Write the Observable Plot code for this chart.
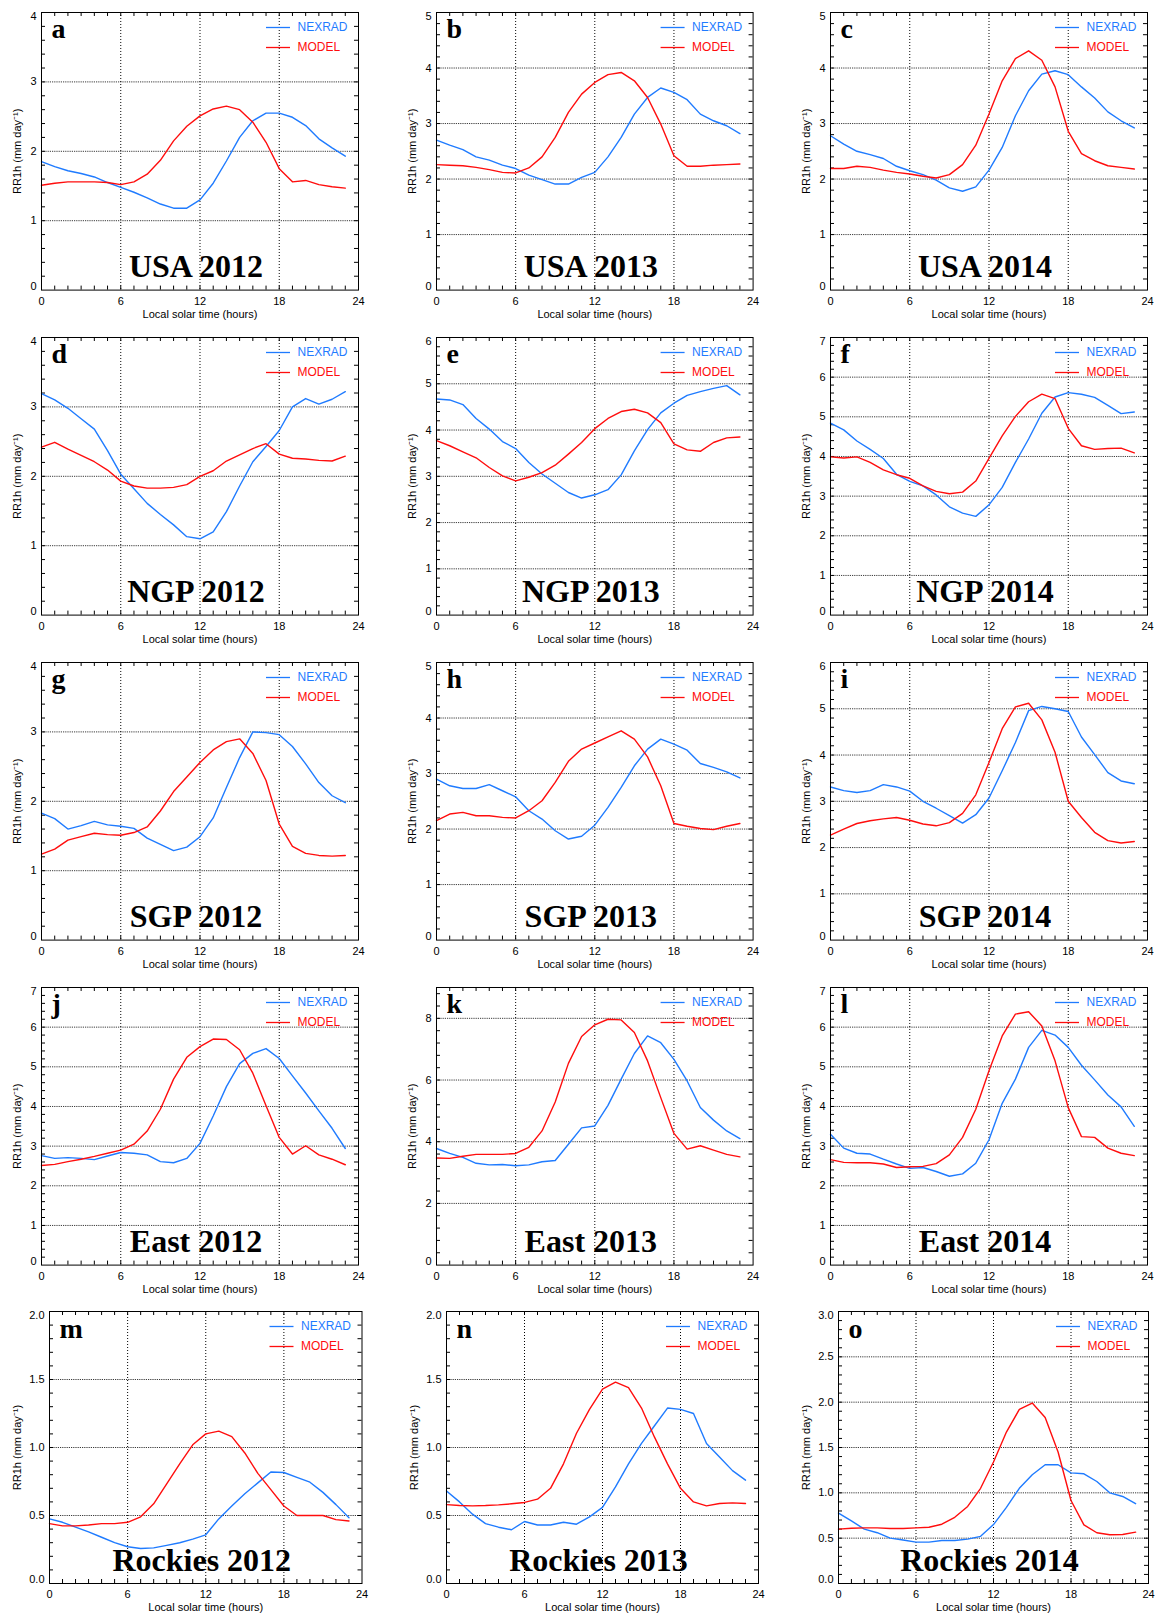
<!DOCTYPE html>
<html>
<head>
<meta charset="utf-8">
<script src="https://cdn.jsdelivr.net/npm/d3@7"></script>
<script src="https://cdn.jsdelivr.net/npm/@observablehq/plot@0.6"></script>
<style>
  html, body { margin: 0; padding: 0; background: #fff; }
  #root { position: relative; width: 1156px; height: 1615px; overflow: hidden; }
  #root svg { position: absolute; overflow: visible; }
</style>
</head>
<body>
<div id="root"></div>
<script>
// ---------------- DATA ----------------
const hours = [0,1,2,3,4,5,6,7,8,9,10,11,12,13,14,15,16,17,18,19,20,21,22,23];
const xTicks = [0, 6, 12, 18, 24];
const xGrid = [6, 12, 18];
const seriesNames = ["NEXRAD", "MODEL"];
const panelLetters = ["a","b","c","d","e","f","g","h","i","j","k","l","m","n","o"];
const panelTitles = ["USA 2012","USA 2013","USA 2014","NGP 2012","NGP 2013","NGP 2014",
  "SGP 2012","SGP 2013","SGP 2014","East 2012","East 2013","East 2014",
  "Rockies 2012","Rockies 2013","Rockies 2014"];
const yMaxes      = [4,5,5, 4,6,7, 4,5,6, 7,9,7, 2,2,3];
const yLabelSteps = [1,1,1, 1,1,1, 1,1,1, 1,2,1, 0.5,0.5,0.5];
const yMinorSteps = [0.2,0.2,0.2, 0.2,0.2,0.2, 0.2,0.2,0.2, 0.2,0.4,0.2, 0.1,0.1,0.1];
const yLabel = "RR1h (mm day\u207B\u00B9)";
const xLabel = "Local solar time (hours)";

const nexradA = [1.85,1.78,1.72,1.68,1.63,1.55,1.48,1.41,1.33,1.24,1.18,1.18,1.30,1.54,1.86,2.20,2.44,2.55,2.55,2.49,2.37,2.18,2.05,1.93];
const modelA  = [1.51,1.54,1.56,1.56,1.56,1.55,1.52,1.56,1.67,1.87,2.15,2.36,2.51,2.61,2.65,2.60,2.42,2.13,1.75,1.56,1.58,1.52,1.49,1.47];
const nexradB = [2.70,2.61,2.53,2.40,2.34,2.25,2.19,2.07,1.99,1.91,1.91,2.03,2.12,2.40,2.75,3.17,3.47,3.64,3.56,3.43,3.17,3.05,2.96,2.82];
const modelB  = [2.26,2.25,2.24,2.21,2.17,2.12,2.11,2.20,2.40,2.75,3.20,3.53,3.74,3.88,3.92,3.77,3.47,2.99,2.42,2.23,2.23,2.25,2.26,2.27];
const nexradC = [2.78,2.63,2.50,2.44,2.37,2.23,2.15,2.08,1.98,1.84,1.78,1.86,2.16,2.57,3.14,3.59,3.89,3.95,3.88,3.66,3.46,3.21,3.05,2.92];
const modelC  = [2.19,2.19,2.23,2.21,2.16,2.12,2.09,2.05,2.02,2.08,2.26,2.61,3.17,3.77,4.17,4.31,4.14,3.66,2.86,2.46,2.33,2.24,2.21,2.18];
const nexradD = [3.19,3.10,2.98,2.83,2.68,2.37,2.03,1.82,1.61,1.45,1.30,1.13,1.10,1.20,1.49,1.86,2.21,2.43,2.66,3.00,3.12,3.04,3.11,3.22];
const modelD  = [2.42,2.49,2.39,2.30,2.21,2.09,1.93,1.86,1.83,1.83,1.84,1.88,2.00,2.08,2.22,2.31,2.40,2.47,2.32,2.26,2.25,2.23,2.22,2.29];
const nexradE = [4.67,4.65,4.55,4.25,4.02,3.75,3.60,3.30,3.05,2.85,2.65,2.53,2.60,2.71,3.03,3.55,4.01,4.37,4.58,4.75,4.83,4.90,4.96,4.76];
const modelE  = [3.77,3.66,3.53,3.40,3.19,3.01,2.90,2.98,3.08,3.24,3.48,3.73,4.03,4.25,4.40,4.45,4.37,4.16,3.70,3.57,3.54,3.73,3.83,3.85];
const nexradF = [4.84,4.67,4.39,4.18,3.95,3.55,3.37,3.26,3.03,2.73,2.57,2.49,2.78,3.22,3.85,4.44,5.09,5.50,5.61,5.57,5.49,5.29,5.08,5.12];
const modelF  = [3.99,3.96,3.99,3.85,3.66,3.54,3.45,3.26,3.12,3.06,3.10,3.38,3.95,4.52,5.01,5.38,5.57,5.46,4.71,4.27,4.18,4.20,4.21,4.09];
const nexradG = [1.83,1.75,1.60,1.65,1.71,1.66,1.64,1.61,1.47,1.38,1.29,1.34,1.49,1.76,2.20,2.63,3.00,2.99,2.96,2.79,2.54,2.27,2.08,1.98];
const modelG  = [1.24,1.31,1.44,1.49,1.54,1.52,1.51,1.55,1.63,1.86,2.14,2.35,2.56,2.74,2.86,2.90,2.69,2.30,1.67,1.35,1.25,1.22,1.21,1.22];
const nexradH = [2.90,2.78,2.73,2.73,2.80,2.69,2.58,2.33,2.18,1.97,1.82,1.87,2.07,2.39,2.75,3.14,3.44,3.62,3.53,3.42,3.18,3.11,3.03,2.92];
const modelH  = [2.15,2.27,2.30,2.24,2.24,2.21,2.20,2.33,2.51,2.84,3.22,3.44,3.55,3.66,3.77,3.62,3.30,2.78,2.10,2.05,2.01,1.99,2.05,2.10];
const nexradI = [3.31,3.23,3.19,3.23,3.36,3.31,3.22,3.00,2.85,2.69,2.53,2.71,3.07,3.66,4.27,4.96,5.05,5.00,4.94,4.39,4.01,3.62,3.44,3.38];
const modelI  = [2.27,2.40,2.52,2.58,2.62,2.65,2.59,2.51,2.47,2.54,2.74,3.14,3.84,4.57,5.04,5.12,4.76,4.06,3.00,2.65,2.33,2.15,2.10,2.13];
const nexradJ = [2.76,2.69,2.71,2.69,2.66,2.75,2.84,2.82,2.78,2.61,2.58,2.69,3.07,3.76,4.50,5.08,5.34,5.46,5.21,4.77,4.34,3.89,3.45,2.94];
const modelJ  = [2.51,2.54,2.61,2.67,2.74,2.82,2.90,3.05,3.38,3.93,4.69,5.24,5.51,5.70,5.69,5.43,4.84,4.02,3.22,2.80,3.01,2.78,2.67,2.53];
const nexradK = [3.78,3.62,3.49,3.30,3.25,3.26,3.22,3.25,3.35,3.39,3.92,4.45,4.51,5.18,6.03,6.86,7.43,7.21,6.67,5.97,5.11,4.70,4.35,4.10];
const modelK  = [3.47,3.46,3.53,3.59,3.59,3.59,3.62,3.82,4.35,5.29,6.54,7.41,7.79,7.97,7.95,7.54,6.62,5.43,4.27,3.76,3.87,3.73,3.59,3.51];
const nexradL = [3.30,2.95,2.82,2.80,2.67,2.55,2.44,2.46,2.36,2.24,2.30,2.57,3.16,4.08,4.69,5.49,5.92,5.80,5.49,5.04,4.67,4.29,3.99,3.50];
const modelL  = [2.66,2.59,2.58,2.58,2.55,2.46,2.48,2.49,2.56,2.78,3.22,3.93,4.90,5.78,6.33,6.39,6.03,5.15,3.97,3.24,3.22,2.95,2.82,2.76];
const nexradM = [0.475,0.45,0.415,0.38,0.34,0.30,0.27,0.257,0.262,0.28,0.30,0.326,0.358,0.475,0.57,0.66,0.74,0.82,0.816,0.78,0.745,0.67,0.58,0.483];
const modelM  = [0.44,0.424,0.424,0.43,0.44,0.44,0.45,0.49,0.586,0.733,0.88,1.02,1.10,1.12,1.08,0.96,0.81,0.69,0.57,0.50,0.50,0.50,0.47,0.46];
const nexradN = [0.68,0.60,0.51,0.44,0.414,0.395,0.456,0.43,0.43,0.45,0.436,0.49,0.56,0.71,0.88,1.03,1.16,1.29,1.28,1.25,1.03,0.93,0.83,0.76];
const modelN  = [0.58,0.573,0.571,0.573,0.578,0.586,0.596,0.62,0.70,0.88,1.105,1.28,1.43,1.48,1.44,1.29,1.076,0.88,0.70,0.60,0.571,0.588,0.593,0.588];
const nexradO = [0.776,0.69,0.60,0.56,0.50,0.48,0.456,0.456,0.474,0.474,0.49,0.52,0.65,0.84,1.05,1.20,1.31,1.31,1.22,1.21,1.125,1.00,0.96,0.88];
const modelO  = [0.60,0.61,0.614,0.614,0.607,0.607,0.614,0.62,0.654,0.73,0.85,1.05,1.34,1.67,1.92,1.99,1.83,1.45,0.915,0.647,0.56,0.537,0.54,0.566];

const nexradSeries = [nexradA,nexradB,nexradC,nexradD,nexradE,nexradF,nexradG,nexradH,nexradI,nexradJ,nexradK,nexradL,nexradM,nexradN,nexradO];
const modelSeries  = [modelA,modelB,modelC,modelD,modelE,modelF,modelG,modelH,modelI,modelJ,modelK,modelL,modelM,modelN,modelO];

// ---------------- LAYOUT / STYLE ----------------
const BLUE = "#1f7bff";
const RED = "#ff0d0d";
const SANS = "'Liberation Sans', Arial, Helvetica, sans-serif";
const SERIF = "'Liberation Serif', 'Times New Roman', Times, serif";
const rowTops = [11.7, 336.7, 661.7, 986.7, 1310.7];
const colLeftsMain = [40.7, 436, 829.7];
const colLeftsLast = [48.5, 445.5, 837.7];
const plotWMain = [317, 316.6, 317];
const plotWLast = [312.5, 312, 310];
const plotHMain = 277.6, plotHLast = 272;
const ML = 46, MR = 8, MT = 8, MB = 40;

const root = document.getElementById("root");

function steps(max, step) {
  const n = Math.round(max / step);
  return Array.from({length: n + 1}, (_, i) => +(i * step).toFixed(3));
}

for (let p = 0; p < 15; p++) {
  const row = Math.floor(p / 3), col = p % 3;
  const last = row === 4;
  const frameLeft = last ? colLeftsLast[col] : colLeftsMain[col];
  const plotW = last ? plotWLast[col] : plotWMain[col];
  const plotH = last ? plotHLast : plotHMain;
  const frameTop = rowTops[row];
  const ymax = yMaxes[p];
  const fmt = last ? d3.format(".1f") : d3.format("d");
  const labels = steps(ymax, yLabelSteps[p]);
  const grid = labels.filter(v => v > 0 && v < ymax);
  const minor = steps(ymax, yMinorSteps[p]).filter(v => v > 0 && v < ymax);
  const midLabels = labels.filter(v => v > 0 && v < ymax);
  const topLabels = labels.filter(v => v === ymax);
  const hourTicks = hours.filter(h => h > 0);

  const data = [];
  hours.forEach((h, i) => {
    data.push({hour: h, value: nexradSeries[p][i], series: seriesNames[0]});
    data.push({hour: h, value: modelSeries[p][i], series: seriesNames[1]});
  });

  const tk = 4;
  const chart = Plot.plot({
    width: ML + plotW + MR,
    height: MT + plotH + MB,
    marginLeft: ML, marginRight: MR, marginTop: MT, marginBottom: MB,
    style: {fontFamily: SANS, fontSize: "11px", background: "transparent", overflow: "visible"},
    x: {domain: [0, 24], label: null},
    y: {domain: [0, ymax], label: null},
    marks: [
      // gridlines
      Plot.ruleY(grid, {stroke: "#3a3a3a", strokeDasharray: "1.2,1", strokeWidth: 1}),
      Plot.ruleX(xGrid, {stroke: "#000", strokeDasharray: "1,2", strokeWidth: 1}),
      // inward ticks on all four sides
      Plot.ruleX(hourTicks, {insetTop: plotH - tk, stroke: "#000"}),
      Plot.ruleX(hourTicks, {insetBottom: plotH - tk, stroke: "#000"}),
      Plot.ruleY(minor, {insetRight: plotW - tk, stroke: "#000"}),
      Plot.ruleY(minor, {insetLeft: plotW - tk, stroke: "#000"}),
      // axes
      Plot.axisX(xTicks, {tickSize: 0, tickPadding: 7, fontSize: 11, label: null}),
      Plot.axisY(midLabels, {tickSize: 0, tickPadding: 5, fontSize: 11, tickFormat: fmt, label: null}),
      Plot.axisY([0], {tickSize: 0, tickPadding: 5, fontSize: 11, tickFormat: fmt, label: null, dy: -4}),
      Plot.axisY(topLabels, {tickSize: 0, tickPadding: 5, fontSize: 11, tickFormat: fmt, label: null, dy: 4}),
      Plot.text([xLabel], {text: d => d, frameAnchor: "bottom", lineAnchor: "middle", dy: 24, fontSize: 11}),
      Plot.text([yLabel], {text: d => d, frameAnchor: "left", textAnchor: "middle", lineAnchor: "middle",
        dx: last ? -32 : -24, rotate: -90, fontSize: 11}),
      // data lines
      Plot.line(data, {x: "hour", y: "value", z: "series",
        stroke: d => d.series === seriesNames[0] ? BLUE : RED, strokeWidth: 1.4}),
      // legend
      Plot.ruleY([ymax], {dy: 15, insetLeft: plotW - 92, insetRight: 68, stroke: BLUE, strokeWidth: 1.3}),
      Plot.ruleY([ymax], {dy: 35, insetLeft: plotW - 92, insetRight: 68, stroke: RED, strokeWidth: 1.3}),
      Plot.text([seriesNames[0]], {text: d => d, frameAnchor: "top-right", lineAnchor: "middle", dx: -61, dy: 15, textAnchor: "start", fill: BLUE, fontSize: 12}),
      Plot.text([seriesNames[1]], {text: d => d, frameAnchor: "top-right", lineAnchor: "middle", dx: -61, dy: 35, textAnchor: "start", fill: RED, fontSize: 12}),
      // panel letter and title
      Plot.text([panelLetters[p]], {text: d => d, frameAnchor: "top-left", dx: 10, dy: 26, lineAnchor: "bottom", textAnchor: "start",
        fontFamily: SERIF, fontWeight: "bold", fontSize: 28, fill: "#000"}),
      Plot.text([panelTitles[p]], {text: d => d, frameAnchor: "bottom", dx: -4, dy: -12.7, lineAnchor: "bottom",
        fontFamily: SERIF, fontWeight: "bold", fontSize: 32, fill: "#000"}),
      Plot.frame({stroke: "#000", strokeWidth: 1})
    ]
  });
  chart.style.left = (frameLeft - ML) + "px";
  chart.style.top = (frameTop - MT) + "px";
  root.appendChild(chart);
}
</script>
</body>
</html>
